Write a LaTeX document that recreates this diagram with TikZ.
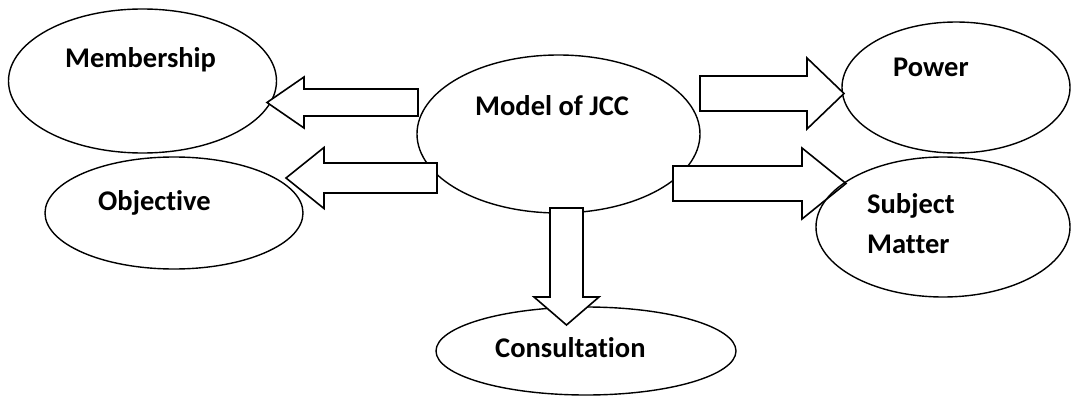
\documentclass[tikz,border=0pt]{standalone}
\usepackage{fontspec}
\setmainfont{Carlito}[Ligatures=NoCommon]
\usetikzlibrary{calc,shapes.geometric}

% block arrow: name, start, tip, half shaft, half head, head length
\newcommand{\blockarrow}[6]{%
  \coordinate (#1-b) at ($(#3)!#6!(#2)$);
  \draw[blockline] ($(#2)!#4!90:(#3)$) -- ($(#1-b)!#4!90:(#3)$) -- ($(#1-b)!#5!90:(#3)$)
    -- (#3) -- ($(#1-b)!#5!-90:(#3)$) -- ($(#1-b)!#4!-90:(#3)$) -- ($(#2)!#4!-90:(#3)$) -- cycle;
}

\begin{document}
\begin{tikzpicture}[x=1pt,y=-1pt]
			\useasboundingbox (0,0) rectangle (1072,396);
			\tikzstyle{oval}=[ellipse,draw=black,line width=1.4pt,inner sep=0pt]
			\tikzstyle{lbl}=[font=\fontsize{28.5}{40}\selectfont\bfseries,inner sep=0pt,anchor=base west,align=left]
			\tikzstyle{blockline}=[draw=black,fill=white,line width=1.6pt,line join=miter]
			% ovals
			\node[oval,minimum width=283pt,minimum height=158pt] (model) at (558.5,134) {};
			\node[oval,minimum width=268pt,minimum height=144pt] (membership) at (142.5,81) {};
			\node[oval,minimum width=258pt,minimum height=112pt] (objective) at (174,213) {};
			\node[oval,minimum width=228pt,minimum height=131pt] (power) at (956,87.5) {};
			\node[oval,minimum width=300pt,minimum height=88pt] (consultation) at (586,351) {};
			% arrow ends
			\coordinate (mem-s) at (418,102.5);
			\coordinate (mem-t) at (267,102.5);
			\coordinate (obj-s) at (437,178);
			\coordinate (obj-t) at (286,178);
			\coordinate (pow-s) at (700,93.5);
			\coordinate (pow-t) at (844,93.5);
			\coordinate (sub-s) at (673,183.5);
			\coordinate (sub-t) at (846,183.5);
			\coordinate (con-s) at (566.5,208);
			\coordinate (con-t) at (566.5,325);
			\blockarrow{mem}{mem-s}{mem-t}{13.5pt}{25.5pt}{37pt}
			\blockarrow{obj}{obj-s}{obj-t}{15pt}{30.5pt}{38pt}
			\blockarrow{pow}{pow-s}{pow-t}{17.5pt}{35.5pt}{37pt}
			\blockarrow{sub}{sub-s}{sub-t}{17.5pt}{35.5pt}{44pt}
			\blockarrow{con}{con-s}{con-t}{16.5pt}{32.5pt}{28pt}
			\node[oval,minimum width=254pt,minimum height=140pt] (subject) at (943,227) {};
			% labels
			\node[lbl] (membership-txt) at (65,67) {Membership};
			\node[lbl] (objective-txt) at (98,210.5) {Objective};
			\node[lbl] (model-txt) at (475,115) {Model of JCC};
			\node[lbl] (power-txt) at (893,77) {Power};
			\node[lbl] (subject-txt) at (867,253) {Subject\\Matter};% base = last line
			\node[lbl] (consultation-txt) at (495,357) {Consultation};
		\end{tikzpicture}
\end{document}
